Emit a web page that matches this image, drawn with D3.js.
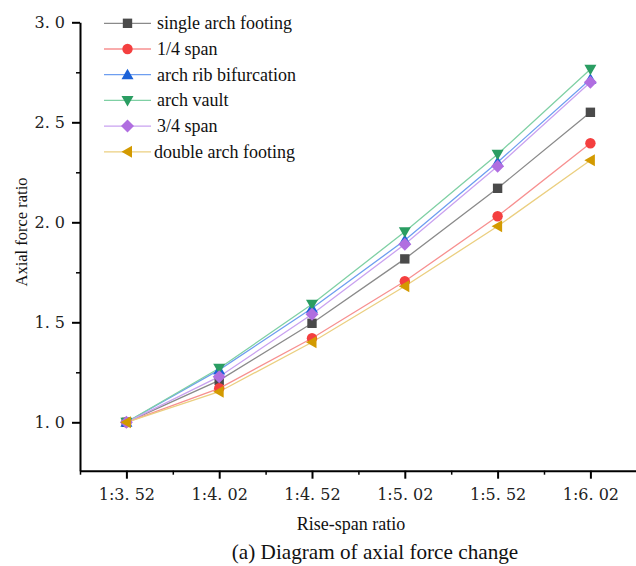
<!DOCTYPE html>
<html>
<head>
<meta charset="utf-8">
<script src="https://cdn.jsdelivr.net/npm/d3@7"></script>
<style>
  body { margin: 0; background: #fff; }
  svg { display: block; font-family: "Liberation Serif", "Times New Roman", serif; }
  .axis path, .axis line { stroke: #000; }
  .axis text { fill: #222; }
</style>
</head>
<body>
<script>
(function(){

//chart data
var xLabels = ["1:3. 52", "1:4. 02", "1:4. 52", "1:5. 02", "1:5. 52", "1:6. 02"];
var seriesNames = ["single arch footing", "1/4 span", "arch rib bifurcation", "arch vault", "3/4 span", "double arch footing"];
var singleFooting = [1.00, 1.21, 1.495, 1.817, 2.17, 2.55];
var quarterSpan = [1.00, 1.17, 1.42, 1.705, 2.03, 2.395];
var ribBifurcation = [1.00, 1.262, 1.57, 1.91, 2.30, 2.715];
var archVault = [1.00, 1.27, 1.59, 1.953, 2.34, 2.765];
var threeQuarterSpan = [1.00, 1.228, 1.54, 1.89, 2.28, 2.70];
var doubleFooting = [1.00, 1.153, 1.40, 1.68, 1.98, 2.31];
var yTicks = [1.0, 1.5, 2.0, 2.5, 3.0];

var seriesValues = [singleFooting, quarterSpan, ribBifurcation, archVault, threeQuarterSpan, doubleFooting];
var markerColors = ["#4a4a4a", "#f43f3f", "#1c62d8", "#2a9d62", "#b06ee0", "#d39a00"];
var lineColors = ["#8a8a8a", "#f79090", "#6e9ef0", "#7fd0a4", "#c9a2f0", "#ebcf80"];
var symbols = [d3.symbolSquare, d3.symbolCircle, "up", "down", "diamond", "left"];

var width = 636,
    height = 566;

var svg = d3.select("body")
    .append("svg")
    .attr("width", width)
    .attr("height", height);

//scales
var x = d3.scaleLinear()
    .domain([-0.5, 5.5])
    .range([80, 80 + 6 * 92.8]);

var y = d3.scaleLinear()
    .domain([0.758, 3.0])
    .range([470.7, 22.3]);

//y axis minor ticks
svg.append("g")
    .attr("class", "axis")
    .attr("transform", "translate(80,0)")
    .call(d3.axisLeft(y).tickValues([1.25, 1.75, 2.25, 2.75]).tickSize(4).tickFormat(""))
    .call(function(g){ g.select(".domain").remove(); })
    .selectAll("line").attr("stroke-width", 1.5);

//y axis
var yAxis = svg.append("g")
    .attr("class", "axis")
    .attr("transform", "translate(80,0)")
    .call(d3.axisLeft(y).tickValues(yTicks).tickSize(8).tickSizeOuter(0).tickPadding(7)
        .tickFormat(function(d){ return d.toFixed(1).replace(".", ". "); }));
yAxis.attr("font-family", "DejaVu Serif").attr("font-size", 16);
yAxis.select(".domain").attr("stroke-width", 2);
yAxis.selectAll("line").attr("stroke-width", 2);

//x axis minor ticks
svg.append("g")
    .attr("class", "axis")
    .attr("transform", "translate(0,470.7)")
    .call(d3.axisBottom(x).tickValues([-0.5, 0.5, 1.5, 2.5, 3.5, 4.5, 5.5]).tickSize(4).tickFormat(""))
    .call(function(g){ g.select(".domain").remove(); })
    .selectAll("line").attr("stroke-width", 1.5);

//x axis
var xAxis = svg.append("g")
    .attr("class", "axis")
    .attr("transform", "translate(0,470.7)")
    .call(d3.axisBottom(x).tickValues(d3.range(xLabels.length)).tickSize(8).tickSizeOuter(0).tickPadding(10)
        .tickFormat(function(d){ return xLabels[d]; }));
xAxis.attr("font-family", "DejaVu Serif").attr("font-size", 16);
xAxis.select(".domain").attr("stroke-width", 2);
xAxis.selectAll("line").attr("stroke-width", 2);

//axis titles
svg.append("text")
    .attr("x", 351)
    .attr("y", 530)
    .attr("text-anchor", "middle")
    .attr("font-size", 18)
    .attr("fill", "#111")
    .text("Rise-span ratio");

svg.append("text")
    .attr("transform", "translate(27,232) rotate(-90)")
    .attr("text-anchor", "middle")
    .attr("font-size", 16.5)
    .attr("fill", "#111")
    .text("Axial force ratio");

svg.append("text")
    .attr("x", 375)
    .attr("y", 559)
    .attr("text-anchor", "middle")
    .attr("font-size", 21.2)
    .attr("fill", "#111")
    .text("(a) Diagram of axial force change");

//marker path generator
function markerPath(type){
    if (type === "up") return "M0,-6L6,4.5L-6,4.5Z";
    if (type === "down") return "M0,6L6,-4.5L-6,-4.5Z";
    if (type === "left") return "M-6,0L4.5,-6L4.5,6Z";
    if (type === "diamond") return "M0,-6.5L6.5,0L0,6.5L-6.5,0Z";
    if (type === d3.symbolSquare) return d3.symbol().type(type).size(88)();
    return d3.symbol().type(type).size(85)();
}

var line = d3.line()
    .x(function(d, i){ return x(i); })
    .y(function(d){ return y(d); });

//lines
seriesValues.forEach(function(vals, s){
    svg.append("path")
        .datum(vals)
        .attr("fill", "none")
        .attr("stroke", lineColors[s])
        .attr("stroke-width", 1.3)
        .attr("d", line);
});

//markers
seriesValues.forEach(function(vals, s){
    svg.selectAll(".m" + s)
        .data(vals)
        .enter()
        .append("path")
        .attr("class", "m" + s)
        .attr("transform", function(d, i){ return "translate(" + x(i) + "," + y(d) + ")"; })
        .attr("d", markerPath(symbols[s]))
        .attr("fill", markerColors[s]);
});

//legend
var legend = svg.append("g").attr("transform", "translate(104,23.3)");
seriesNames.forEach(function(name, s){
    var row = legend.append("g").attr("transform", "translate(0," + (s * 25.7) + ")");
    row.append("line")
        .attr("x1", 0).attr("x2", 47)
        .attr("stroke", lineColors[s])
        .attr("stroke-width", 1.3);
    row.append("path")
        .attr("transform", "translate(23.5,0)")
        .attr("d", markerPath(symbols[s]))
        .attr("fill", markerColors[s]);
    row.append("text")
        .attr("x", s === 5 ? 50 : 53)
        .attr("y", 6)
        .attr("font-size", 18)
        .attr("fill", "#111")
        .text(name);
});

})();
</script>
</body>
</html>
